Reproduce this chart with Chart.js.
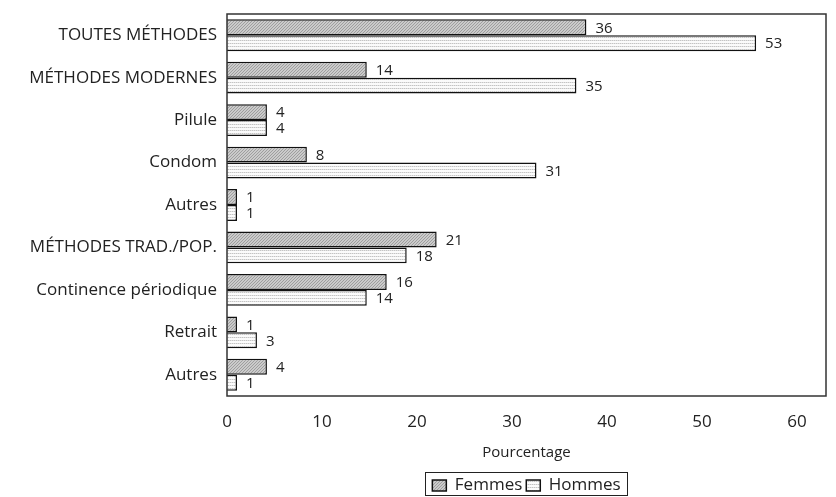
<!DOCTYPE html>
<html>
<head>
<meta charset="utf-8">
<script src="https://cdn.jsdelivr.net/npm/chart.js@4.4.1/dist/chart.umd.min.js"></script>
<style>
    html, body { margin: 0; padding: 0; background: #fff; }
    #wrap { width: 836px; height: 497px; }
</style>
</head>
<body>
<div id="wrap"><canvas id="barChart" width="836" height="497"></canvas></div>
<script>
const categories = [
    'TOUTES MÉTHODES',
    'MÉTHODES MODERNES',
    'Pilule',
    'Condom',
    'Autres',
    'MÉTHODES TRAD./POP.',
    'Continence périodique',
    'Retrait',
    'Autres'
];
const femmes = [36, 14, 4, 8, 1, 21, 16, 1, 4];
const hommes = [53, 35, 4, 31, 1, 18, 14, 3, 1];
const tickValues = [0, 10, 20, 30, 40, 50, 60];

const fontName = '"Open Sans", Lato, sans-serif';
const textColor = '#222';

// hatched grey for the women, dotted light grey for the men
function makePattern(kind) {
    const c = document.createElement('canvas');
    const g = c.getContext('2d');
    if (kind === 'hatch') {
        c.width = 3;
        c.height = 3;
        g.fillStyle = '#cbcbcb';
        g.fillRect(0, 0, 3, 3);
        g.fillStyle = '#9e9e9e';
        for (let i = 0; i < 3; i++) {
            g.fillRect(2 - i, i, 1, 1);
        }
    } else {
        c.width = 4;
        c.height = 3;
        g.fillStyle = '#fbfbfb';
        g.fillRect(0, 0, 4, 3);
        g.fillStyle = '#c4c4c4';
        g.fillRect(0, 1, 1, 1);
        g.fillRect(2, 1, 1, 1);
        g.fillStyle = '#e2e2e2';
        g.fillRect(1, 1, 1, 1);
        g.fillRect(3, 1, 1, 1);
    }
    return g.createPattern(c, 'repeat');
}

const valueLabels = {
    id: 'valueLabels',
    afterDatasetsDraw(chart) {
        const ctx = chart.ctx;
        ctx.save();
        ctx.font = '15px ' + fontName;
        ctx.fillStyle = textColor;
        ctx.textBaseline = 'middle';
        ctx.textAlign = 'left';
        chart.data.datasets.forEach((ds, i) => {
            const meta = chart.getDatasetMeta(i);
            meta.data.forEach((el, j) => {
                ctx.fillText(String(ds.data[j]), el.x + 9, el.y + 1);
            });
        });
        ctx.restore();
    }
};

const frame = {
    id: 'frame',
    afterDraw(chart) {
        const a = chart.chartArea;
        const ctx = chart.ctx;
        ctx.save();
        ctx.strokeStyle = '#333';
        ctx.lineWidth = 1.5;
        ctx.strokeRect(a.left, a.top, a.right - a.left, a.bottom - a.top);
        // box round the legend
        const boxes = chart.legend.legendHitBoxes;
        if (boxes && boxes.length) {
            const first = boxes[0];
            const last = boxes[boxes.length - 1];
            const left = Math.round(first.left - 7) + 0.5;
            const right = Math.round(last.left + last.width + 6) + 0.5;
            const mid = first.top + first.height / 2;
            ctx.lineWidth = 1;
            ctx.strokeStyle = '#222';
            ctx.strokeRect(left, Math.round(mid - 14) + 0.5, right - left, 23);
        }
        ctx.restore();
    }
};

function renderBarChart() {
    const dataToDisplay = {
        labels: categories,
        datasets: [{
            label: 'Femmes',
            data: femmes,
            backgroundColor: makePattern('hatch'),
            borderColor: '#111',
            borderWidth: 1.5,
            xAxisID: 'x',
            categoryPercentage: 0.75,
            barPercentage: 1.0
        }, {
            label: 'Hommes',
            data: hommes,
            backgroundColor: makePattern('dots'),
            borderColor: '#111',
            borderWidth: 1.5,
            xAxisID: 'x',
            categoryPercentage: 0.75,
            barPercentage: 1.0
        }]
    };

    const config = {
        type: 'bar',
        data: dataToDisplay,
        options: {
            indexAxis: 'y',
            responsive: false,
            animation: false,
            layout: {
                padding: { top: 14, right: 10, left: 0, bottom: -7 }
            },
            plugins: {
                tooltip: { enabled: false },
                legend: {
                    position: 'bottom',
                    fullSize: false,
                    labels: {
                        boxWidth: 14,
                        boxHeight: 11,
                        padding: 4,
                        color: textColor,
                        font: { family: fontName, size: 17 }
                    }
                }
            },
            scales: {
                x: {
                    type: 'linear',
                    min: 0,
                    max: 60,
                    display: false
                },
                xt: {
                    type: 'linear',
                    position: 'bottom',
                    min: 0,
                    max: 63.05,
                    grid: { display: false },
                    border: { display: false },
                    afterBuildTicks: (scale) => {
                        scale.ticks = tickValues.map(v => ({ value: v }));
                    },
                    afterFit: (scale) => {
                        scale.height = 77;
                    },
                    ticks: {
                        padding: 8,
                        color: textColor,
                        font: { family: fontName, size: 17 }
                    },
                    title: {
                        display: true,
                        text: 'Pourcentage',
                        color: textColor,
                        padding: { top: 9, bottom: 11 },
                        font: { family: fontName, size: 15 }
                    }
                },
                y: {
                    grid: { display: false },
                    border: { display: false },
                    afterFit: (scale) => {
                        scale.width = 227;
                        scale.paddingTop = 0;
                        scale.paddingBottom = 0;
                    },
                    ticks: {
                        padding: 2,
                        color: textColor,
                        font: { family: fontName, size: 17 }
                    }
                }
            }
        },
        plugins: [valueLabels, frame]
    };

    const dataChart = new Chart(document.getElementById('barChart'), config);
}

renderBarChart();
</script>
</body>
</html>
